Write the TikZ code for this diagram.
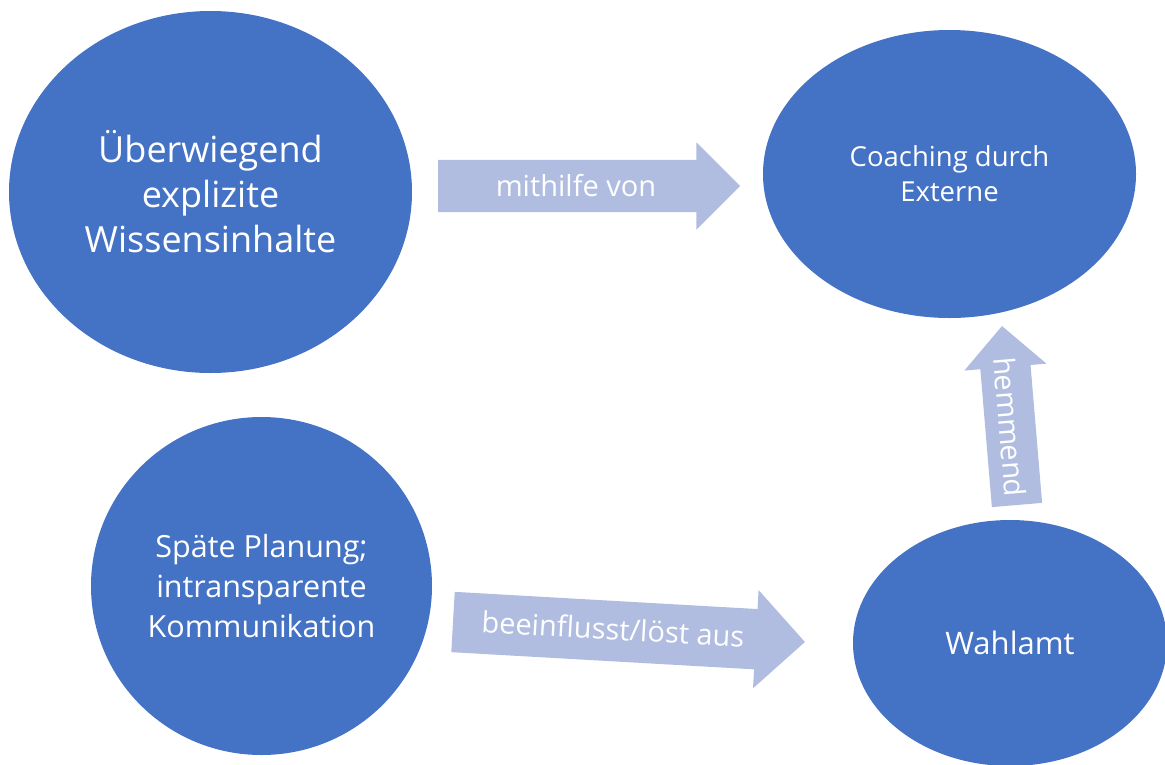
\documentclass[tikz,border=0pt]{standalone}
\usepackage{fontspec}
\setmainfont{Open Sans}
\usetikzlibrary{shapes.geometric,shapes.arrows}
\definecolor{kreisblau}{HTML}{4472C4}
\definecolor{pfeilblau}{HTML}{B0BDE0}
\tikzset{
  kreis/.style={ellipse, fill=kreisblau, text=white, align=center, inner sep=0pt},
  pfeil/.style={single arrow, fill=pfeilblau, inner xsep=0pt, outer sep=0pt, anchor=tail},
  pfeiltext/.style={text=white, inner sep=0pt, font=\fontsize{29}{34}\selectfont}
}
\begin{document}
\begin{tikzpicture}[x=1pt,y=-1pt]
    \clip (0,0) rectangle (1165,764);
    % Kreise
    \node[kreis, minimum width=403pt, minimum height=362pt, font=\fontsize{36}{45}\selectfont] (wissen) at (210.5,192) {Überwiegend\\explizite\\Wissensinhalte};
    \node[kreis, minimum width=373pt, minimum height=288pt, font=\fontsize{27.5}{35}\selectfont] (coaching) at (949.5,174) {Coaching durch\\Externe};
    \node[kreis, minimum width=341pt, minimum height=338pt, font=\fontsize{30.5}{40}\selectfont] (planung) at (261.5,586) {Späte Planung;\\intransparente\\Kommunikation};
    \node[kreis, minimum width=314pt, minimum height=246pt, font=\fontsize{31}{38}\selectfont] (wahlamt) at (1010,643) {Wahlamt};
    % Pfeile
    \node[pfeil, minimum height=302pt, inner ysep=26pt, single arrow head extend=17.5pt] (p1) at (438,186) {};
    \node[pfeil, minimum height=352.5pt, inner ysep=30pt, single arrow head extend=19pt, rotate=-3.25] (p2) at (453,622) {};
    \node[pfeil, minimum height=179.6pt, inner ysep=25pt, single arrow head extend=16pt, rotate=94.8] (p3) at (1017,505) {};
    \node[pfeiltext] (t1) at (576,186) {mithilfe von};
    \node[pfeiltext, rotate=-3.25] (t2) at (613,629) {beeinflusst/löst aus};
    \node[pfeiltext, rotate=-85.2] (t3) at (1010,427) {hemmend};
\end{tikzpicture}
\end{document}
